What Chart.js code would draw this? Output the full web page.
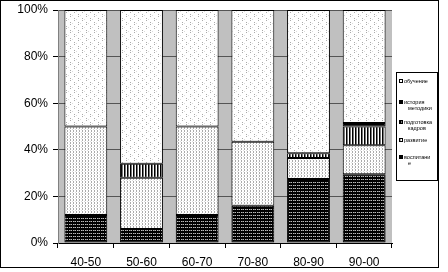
<!DOCTYPE html>
<html>
<head>
<meta charset="utf-8">
<script src="https://cdn.jsdelivr.net/npm/chart.js@4/dist/chart.umd.min.js"></script>
<style>
  body { margin: 0; background: #fff; }
  #frame { position: absolute; left: 0; top: 0; width: 437px; height: 266px; border: 1px solid #000; }
</style>
</head>
<body>
<div id="frame"><canvas id="chart" width="437" height="266"></canvas></div>
<script>
// periods on the x axis
const periods = ["40-50", "50-60", "60-70", "70-80", "80-90", "90-00"];

// shares in %, stacked bottom -> top
const vospitanie = [12, 6, 12, 16, 27.5, 29.5];
const razvitie = [38, 22, 38, 27.5, 9, 12.5];
const podgotovka = [0, 6, 0, 0, 2, 8];
const istoriya = [0, 0, 0, 0, 0, 1.5];
const obuchenie = [50, 66, 50, 56.5, 61.5, 48.5];

const yTicks = [0, 20, 40, 60, 80, 100];

// legend labels (split into lines as in the original)
const legendLines = {
  "обучение": ["обучение"],
  "история методики": ["история", "методики"],
  "подготовка кадров": ["подготовка", "кадров"],
  "развитие": ["развитие"],
  "воспитание": ["воспитани", "е"],
};

function makePattern(w, h, draw) {
  const c = document.createElement("canvas");
  c.width = w;
  c.height = h;
  const g = c.getContext("2d");
  draw(g);
  return document.getElementById("chart").getContext("2d").createPattern(c, "repeat");
}

// dark horizontal stripes
const patDark = makePattern(4, 3, (g) => {
  g.fillStyle = "#000";
  g.fillRect(0, 0, 4, 3);
  g.fillStyle = "#bbb";
  g.fillRect(0, 1, 1, 1);
  g.fillRect(2, 1, 1, 1);
  g.fillStyle = "#666";
  g.fillRect(1, 1, 1, 1);
});
// light dots in columns
const patDots = makePattern(3, 3, (g) => {
  g.fillStyle = "#fff";
  g.fillRect(0, 0, 3, 3);
  g.fillStyle = "#aaa";
  g.fillRect(0, 0, 1, 1);
  g.fillRect(0, 1, 1, 1);
  g.fillStyle = "#ddd";
  g.fillRect(2, 2, 1, 1);
});
// vertical stripes
const patVert = makePattern(3, 2, (g) => {
  g.fillStyle = "#fff";
  g.fillRect(0, 0, 3, 2);
  g.fillStyle = "#000";
  g.fillRect(0, 0, 1, 2);
  g.fillStyle = "#777";
  g.fillRect(1, 0, 1, 2);
});
// sparse dots
const patSparse = makePattern(8, 8, (g) => {
  g.fillStyle = "#fff";
  g.fillRect(0, 0, 8, 8);
  g.fillStyle = "#aaa";
  g.fillRect(1, 1, 1, 1);
  g.fillRect(1, 3, 1, 1);
  g.fillRect(5, 5, 1, 1);
  g.fillRect(5, 7, 1, 1);
  g.fillStyle = "#ddd";
  g.fillRect(3, 2, 1, 1);
  g.fillRect(7, 6, 1, 1);
});

const plotBg = {
  id: "plotBg",
  beforeDraw(chart) {
    const { ctx, chartArea: a } = chart;
    ctx.save();
    ctx.fillStyle = "#c0c0c0";
    ctx.fillRect(a.left, a.top, a.right - a.left, a.bottom - a.top);
    ctx.restore();
  },
};

// legend box on the right, top to bottom in reverse stack order
const sideLegend = {
  id: "sideLegend",
  afterDraw(chart) {
    const ctx = chart.ctx;
    const x0 = 395, y0 = 71, w = 41, h = 108;
    const rows = [80, 101, 121, 139, 156];
    ctx.save();
    ctx.fillStyle = "#fff";
    ctx.fillRect(x0, y0, w, h);
    ctx.strokeStyle = "#000";
    ctx.lineWidth = 1;
    ctx.strokeRect(x0 + 0.5, y0 + 0.5, w, h);
    ctx.font = "5.5px 'Liberation Sans', Arial, sans-serif";
    ctx.textBaseline = "middle";
    const ds = chart.data.datasets.slice().reverse();
    ds.forEach((d, i) => {
      const y = rows[i];
      ctx.fillStyle = d.backgroundColor;
      ctx.fillRect(x0 + 3, y - 2, 4, 4);
      ctx.strokeStyle = "#000";
      ctx.strokeRect(x0 + 3.5, y - 1.5, 3, 3);
      ctx.fillStyle = "#000";
      const lines = legendLines[d.label];
      lines.forEach((t, j) => {
        ctx.fillText(t, j === 0 ? x0 + 8 : x0 + 12, y + j * 6);
      });
    });
    ctx.restore();
  },
};

new Chart(document.getElementById("chart"), {
  type: "bar",
  data: {
    labels: periods,
    datasets: [
      { label: "воспитание", data: vospitanie, backgroundColor: patDark },
      { label: "развитие", data: razvitie, backgroundColor: patDots },
      { label: "подготовка кадров", data: podgotovka, backgroundColor: patVert },
      { label: "история методики", data: istoriya, backgroundColor: "#000" },
      { label: "обучение", data: obuchenie, backgroundColor: patSparse },
    ].map((d) => ({
      ...d,
      borderColor: "#000",
      borderWidth: 1,
      borderSkipped: false,
      barPercentage: 0.77,
      categoryPercentage: 1,
    })),
  },
  options: {
    responsive: false,
    animation: false,
    layout: { padding: { top: 9, right: 46, left: 0, bottom: 0 } },
    plugins: {
      legend: { display: false },
      tooltip: { enabled: false },
    },
    scales: {
      x: {
        stacked: true,
        grid: {
          drawOnChartArea: false,
          tickLength: 5,
          tickColor: "#000",
          offset: true,
        },
        border: { color: "#000" },
        ticks: {
          color: "#000",
          padding: 7,
          font: { family: "'Liberation Sans', Arial, sans-serif", size: 12 },
        },
        afterFit(scale) {
          scale.height = 24;
        },
      },
      y: {
        stacked: true,
        min: 0,
        max: 100,
        afterBuildTicks(scale) {
          scale.ticks = yTicks.map((v) => ({ value: v }));
        },
        grid: {
          color: "#555",
          tickColor: "#000",
          tickLength: 5,
        },
        border: { color: "#808080" },
        ticks: {
          color: "#000",
          padding: 5,
          font: { family: "'Liberation Sans', Arial, sans-serif", size: 12 },
          callback: (v) => v + "%",
        },
        afterFit(scale) {
          scale.width = 57;
          scale.paddingTop = 0;
          scale.paddingBottom = 0;
        },
      },
    },
  },
  plugins: [plotBg, sideLegend],
});
</script>
</body>
</html>
